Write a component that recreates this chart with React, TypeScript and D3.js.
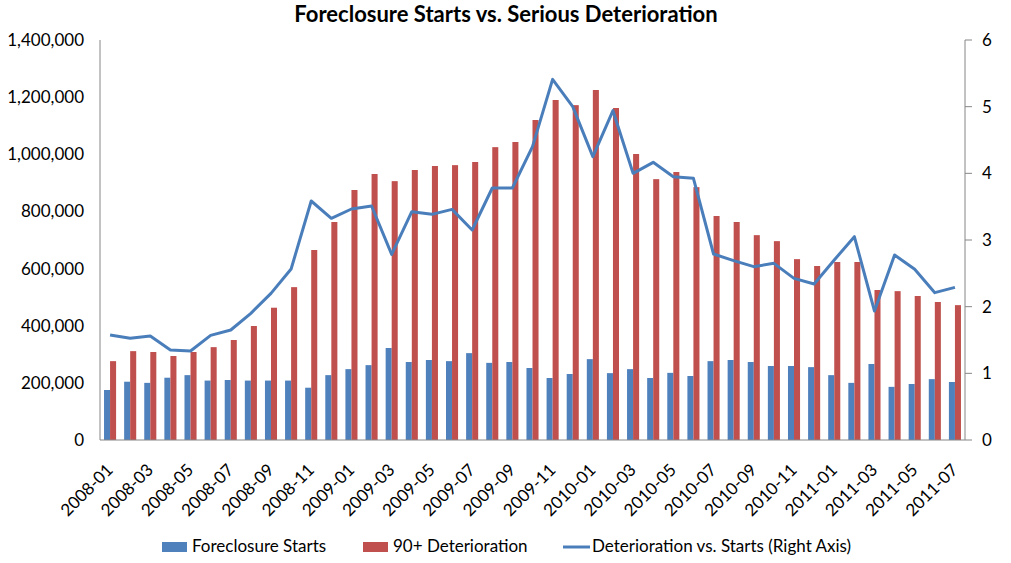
import * as d3 from "d3";

const MONTHS = [
  "2008-01", "2008-02", "2008-03", "2008-04", "2008-05", "2008-06", "2008-07", "2008-08", "2008-09", "2008-10", "2008-11", "2008-12",
  "2009-01", "2009-02", "2009-03", "2009-04", "2009-05", "2009-06", "2009-07", "2009-08", "2009-09", "2009-10", "2009-11", "2009-12",
  "2010-01", "2010-02", "2010-03", "2010-04", "2010-05", "2010-06", "2010-07", "2010-08", "2010-09", "2010-10", "2010-11", "2010-12",
  "2011-01", "2011-02", "2011-03", "2011-04", "2011-05", "2011-06", "2011-07",
];

const STARTS = [
  175000, 204000, 200000, 218000, 227000, 208000, 210000, 208000, 208000, 208000, 183000, 227000,
  248000, 262000, 322000, 273000, 280000, 276000, 304000, 270000, 273000, 252000, 217000, 231000,
  283000, 234000, 248000, 217000, 235000, 224000, 276000, 280000, 273000, 259000, 259000, 255000,
  227000, 200000, 266000, 186000, 196000, 213000, 203000,
];

const DETERIORATION = [
  276000, 311000, 308000, 294000, 308000, 325000, 350000, 399000, 463000, 535000, 665000, 763000,
  875000, 931000, 906000, 945000, 959000, 962000, 973000, 1025000, 1043000, 1120000, 1190000, 1172000,
  1225000, 1162000, 1001000, 913000, 938000, 885000, 784000, 763000, 717000, 696000, 633000, 609000,
  623000, 623000, 525000, 521000, 504000, 483000, 472000,
];

const RATIO = [
  1.575, 1.525, 1.56, 1.35, 1.335, 1.57, 1.65, 1.9, 2.2, 2.565, 3.585, 3.325,
  3.465, 3.51, 2.785, 3.425, 3.385, 3.46, 3.15, 3.78, 3.78, 4.4, 5.41, 5.0,
  4.25, 4.94, 4.0, 4.165, 3.95, 3.925, 2.79, 2.69, 2.6, 2.65, 2.425, 2.34,
  2.7, 3.05, 1.935, 2.775, 2.56, 2.21, 2.29,
];

const LEFT_TICKS = [0, 200000, 400000, 600000, 800000, 1000000, 1200000, 1400000];
const RIGHT_TICKS = [0, 1, 2, 3, 4, 5, 6];
const SERIES = ["starts", "deterioration"];

const BLUE = "#4F81BD";
const RED = "#C0504D";
const LINE = "#4A7EBB";
const AXIS = "#868686";
const FONT = "Lato, 'Open Sans', sans-serif";

const W = 1011;
const H = 563;
const M = { left: 100, right: 965, top: 40, bottom: 440 };

export default function App() {
  const x = d3
    .scaleBand<string>()
    .domain(MONTHS)
    .range([M.left, M.right])
    .paddingInner(0.4)
    .paddingOuter(0.2);

  const xs = d3.scaleBand<string>().domain(SERIES).range([0, x.bandwidth()]);

  const yL = d3.scaleLinear().domain([0, 1400000]).range([M.bottom, M.top]);
  const yR = d3.scaleLinear().domain([0, 6]).range([M.bottom, M.top]);

  const cx = (m: string) => (x(m) ?? 0) + x.bandwidth() / 2;

  const line = d3
    .line<number>()
    .x((_, i) => cx(MONTHS[i]))
    .y((d) => yR(d));

  const fmt = d3.format(",");

  return (
    <div style={{ position: "fixed", left: 0, top: 0 }}>
      <svg width={W} height={H} style={{ display: "block", background: "#fff" }} fontFamily={FONT}>
        <text x={506} y={22} textAnchor="middle" fontSize={22} fontWeight="bold" fill="#000">
          Foreclosure Starts vs. Serious Deterioration
        </text>

        {/* bars */}
        {MONTHS.map((m, i) => (
          <g key={m} transform={`translate(${x(m)},0)`}>
            <rect
              x={xs("starts")}
              y={yL(STARTS[i])}
              width={xs.bandwidth()}
              height={yL(0) - yL(STARTS[i])}
              fill={BLUE}
            />
            <rect
              x={xs("deterioration")}
              y={yL(DETERIORATION[i])}
              width={xs.bandwidth()}
              height={yL(0) - yL(DETERIORATION[i])}
              fill={RED}
            />
          </g>
        ))}

        {/* ratio line */}
        <path d={line(RATIO) ?? ""} fill="none" stroke={LINE} strokeWidth={3} strokeLinejoin="round" />

        {/* axes */}
        <line x1={M.left} x2={M.left} y1={M.top} y2={M.bottom} stroke={AXIS} />
        <line x1={M.right} x2={M.right} y1={M.top} y2={M.bottom} stroke={AXIS} />
        <line x1={M.left} x2={M.right} y1={M.bottom} y2={M.bottom} stroke={AXIS} />

        {LEFT_TICKS.map((t) => (
          <text key={t} x={84} y={yL(t)} dy="0.35em" textAnchor="end" fontSize={17} fill="#000">
            {fmt(t)}
          </text>
        ))}

        {RIGHT_TICKS.map((t) => (
          <g key={t}>
            <line x1={M.right} x2={M.right + 7} y1={yR(t)} y2={yR(t)} stroke={AXIS} />
            <text x={982} y={yR(t)} dy="0.35em" fontSize={17} fill="#000">
              {t}
            </text>
          </g>
        ))}

        {MONTHS.filter((_, i) => i % 2 === 0).map((m) => (
          <text
            key={m}
            transform={`translate(${cx(m) + 4},${471}) rotate(-45)`}
            textAnchor="end"
            fontSize={17}
            fill="#000"
          >
            {m}
          </text>
        ))}

        {/* legend */}
        <rect x={162} y={542} width={25} height={10} fill={BLUE} />
        <text x={192} y={552} fontSize={17} fill="#000">Foreclosure Starts</text>
        <rect x={363} y={542} width={25} height={10} fill={RED} />
        <text x={393} y={552} fontSize={17} fill="#000">90+ Deterioration</text>
        <line x1={563} x2={590} y1={547} y2={547} stroke={LINE} strokeWidth={3} />
        <text x={592} y={552} fontSize={17} fill="#000">Deterioration vs. Starts (Right Axis)</text>
      </svg>
    </div>
  );
}
